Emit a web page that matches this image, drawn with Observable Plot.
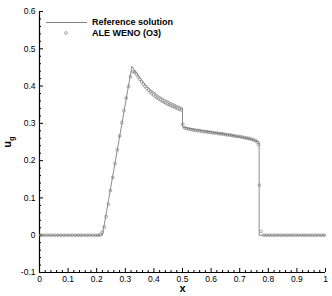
<!DOCTYPE html>
<html><head><meta charset="utf-8">
<script src="https://cdn.jsdelivr.net/npm/d3@7"></script>
<script src="https://cdn.jsdelivr.net/npm/@observablehq/plot@0.6"></script>
<style>
body{margin:0;background:#fff}
#chart svg{font-family:"Liberation Sans",Arial,Helvetica,sans-serif}
</style>
</head><body><div id="chart"></div>
<script>
// Reference solution (line)
const refX = [0, 0.22, 0.323, 0.33, 0.34, 0.35, 0.36, 0.37, 0.38, 0.39, 0.40, 0.42, 0.44, 0.46, 0.48, 0.5, 0.5, 0.55, 0.6, 0.65, 0.7, 0.74, 0.768, 0.768, 1];
const refU = [0, 0, 0.453, 0.445, 0.434, 0.423, 0.413, 0.404, 0.396, 0.389, 0.383, 0.372, 0.363, 0.355, 0.348, 0.341, 0.29, 0.283, 0.277, 0.271, 0.264, 0.257, 0.25, 0, 0];

// ALE WENO (O3) cell values (markers)
const wenoX = [
  0.005, 0.015, 0.025, 0.035, 0.045, 0.055, 0.065, 0.075, 0.085, 0.095,
  0.105, 0.115, 0.125, 0.135, 0.145, 0.155, 0.165, 0.175, 0.185, 0.195, 0.205,
  0.212, 0.219, 0.226, 0.233, 0.241, 0.248, 0.256, 0.264, 0.272, 0.280, 0.288,
  0.295, 0.303, 0.311, 0.318, 0.327, 0.333,
  0.339, 0.345, 0.351, 0.357, 0.363, 0.369, 0.375, 0.381, 0.387, 0.393, 0.399,
  0.405, 0.411, 0.417, 0.423, 0.429, 0.435, 0.441, 0.447, 0.453, 0.459, 0.465,
  0.471, 0.477, 0.483, 0.489, 0.495,
  0.501,
  0.508, 0.514, 0.521, 0.527, 0.534, 0.540, 0.547, 0.553, 0.560, 0.566,
  0.573, 0.579, 0.586, 0.592, 0.599, 0.605, 0.612, 0.618, 0.625, 0.631,
  0.638, 0.644, 0.651, 0.657, 0.664, 0.670, 0.677, 0.683, 0.690, 0.696,
  0.703, 0.709, 0.716, 0.722, 0.729, 0.735, 0.742, 0.748, 0.755, 0.761,
  0.766, 0.769, 0.775,
  0.785, 0.795, 0.805, 0.815, 0.825, 0.835, 0.845, 0.855, 0.865, 0.875, 0.885,
  0.895, 0.905, 0.915, 0.925, 0.935, 0.945, 0.955, 0.965, 0.975, 0.985, 0.995
];
const wenoU = [
  0, 0, 0, 0, 0, 0, 0, 0, 0, 0,
  0, 0, 0, 0, 0, 0, 0, 0, 0, 0, 0,
  0.001, 0.008, 0.022, 0.05, 0.083, 0.12, 0.155, 0.192, 0.229, 0.266, 0.302,
  0.334, 0.368, 0.399, 0.425, 0.438, 0.438,
  0.432, 0.425, 0.418, 0.411, 0.405, 0.399, 0.394, 0.389, 0.384, 0.380, 0.376,
  0.372, 0.369, 0.366, 0.363, 0.360, 0.357, 0.355, 0.352, 0.350, 0.348, 0.346,
  0.344, 0.342, 0.340, 0.338, 0.336,
  0.298,
  0.288, 0.286, 0.285, 0.284, 0.283, 0.282, 0.281, 0.281, 0.280, 0.279,
  0.278, 0.278, 0.277, 0.276, 0.276, 0.275, 0.274, 0.274, 0.273, 0.272,
  0.272, 0.271, 0.270, 0.269, 0.269, 0.268, 0.267, 0.266, 0.265, 0.265,
  0.264, 0.263, 0.262, 0.261, 0.260, 0.259, 0.257, 0.256, 0.254, 0.250,
  0.243, 0.134, 0.010,
  0, 0, 0, 0, 0, 0, 0, 0, 0, 0, 0,
  0, 0, 0, 0, 0, 0, 0, 0, 0, 0, 0
];

const xDomain = [0, 1];
const yDomain = [-0.1, 0.6];
const xTicks = [0, 0.1, 0.2, 0.3, 0.4, 0.5, 0.6, 0.7, 0.8, 0.9, 1];
const yTicks = [-0.1, 0, 0.1, 0.2, 0.3, 0.4, 0.5, 0.6];
const xMinor = [0.02, 0.04, 0.06, 0.08, 0.12, 0.14, 0.16, 0.18, 0.22, 0.24, 0.26, 0.28,
  0.32, 0.34, 0.36, 0.38, 0.42, 0.44, 0.46, 0.48, 0.52, 0.54, 0.56, 0.58,
  0.62, 0.64, 0.66, 0.68, 0.72, 0.74, 0.76, 0.78, 0.82, 0.84, 0.86, 0.88,
  0.92, 0.94, 0.96, 0.98];
const yMinor = [-0.08, -0.06, -0.04, -0.02, 0.02, 0.04, 0.06, 0.08, 0.12, 0.14, 0.16, 0.18,
  0.22, 0.24, 0.26, 0.28, 0.32, 0.34, 0.36, 0.38, 0.42, 0.44, 0.46, 0.48,
  0.52, 0.54, 0.56, 0.58];

const legendLabels = ["Reference solution", "ALE WENO (O3)"];
const xLabel = "x";
const yLabelMain = "u";
const yLabelSub = "g";

const ref = refX.map((x, i) => ({x, u: refU[i]}));
const weno = wenoX.map((x, i) => ({x, u: wenoU[i]}));

const fmt = d => String(d);

const plot = Plot.plot({
  width: 332,
  height: 296,
  marginLeft: 39,
  marginRight: 7,
  marginTop: 11,
  marginBottom: 24,
  x: {domain: xDomain},
  y: {domain: yDomain},
  style: {fontFamily: '"Liberation Sans", Arial, sans-serif', fontSize: "8.5px", color: "black", background: "white"},
  marks: [
    Plot.axisX(xTicks, {tickSize: 0, tickPadding: 3, tickFormat: fmt, label: null}),
    Plot.axisY(yTicks, {tickSize: 0, tickPadding: 4, tickFormat: fmt, label: null}),
    Plot.ruleX(xTicks, {x: d => d, y1: yDomain[0], y2: yDomain[0], insetBottom: 4, stroke: "black"}),
    Plot.ruleX(xMinor, {x: d => d, y1: yDomain[0], y2: yDomain[0], insetBottom: 2, stroke: "black"}),
    Plot.ruleY(yTicks, {y: d => d, x1: xDomain[0], x2: xDomain[0], insetLeft: 4, stroke: "black"}),
    Plot.ruleY(yMinor, {y: d => d, x1: xDomain[0], x2: xDomain[0], insetLeft: 2, stroke: "black"}),
    Plot.ruleX([xDomain[0]], {stroke: "black", strokeWidth: 1.2}),
    Plot.ruleY([yDomain[0]], {stroke: "black", strokeWidth: 1.2}),
    Plot.line(ref, {x: "x", y: "u", stroke: "#808080", strokeWidth: 0.9}),
    Plot.dot(weno, {x: "x", y: "u", r: 1.4, stroke: "#707070", strokeWidth: 0.6, fill: "none"}),
    Plot.text([xLabel], {frameAnchor: "bottom", text: d => d, dy: 16, fontWeight: "bold", fontSize: 11, lineAnchor: "middle"})
  ]
});

const svg = d3.select(plot);
// y label with subscript
const yl = svg.append("text")
  .attr("transform", "translate(11,142) rotate(-90)")
  .attr("text-anchor", "middle")
  .attr("font-weight", "bold")
  .attr("font-size", 11)
  .attr("fill", "black");
yl.append("tspan").text(yLabelMain);
yl.append("tspan").attr("font-size", 7.5).attr("dy", 3).text(yLabelSub);

// legend
const lg = svg.append("g").attr("font-size", 9).attr("font-weight", "bold").attr("fill", "black").attr("text-anchor", "start");
lg.append("line").attr("x1", 46).attr("x2", 87).attr("y1", 22.5).attr("y2", 22.5).attr("stroke", "#808080").attr("stroke-width", 1);
lg.append("text").attr("x", 92).attr("y", 22).attr("dy", "0.35em").text(legendLabels[0]);
lg.append("circle").attr("cx", 66).attr("cy", 33).attr("r", 1.4).attr("fill", "none").attr("stroke", "#707070").attr("stroke-width", 0.6);
lg.append("text").attr("x", 92).attr("y", 33).attr("dy", "0.35em").text(legendLabels[1]);

document.getElementById("chart").appendChild(plot);
</script>
</body></html>
